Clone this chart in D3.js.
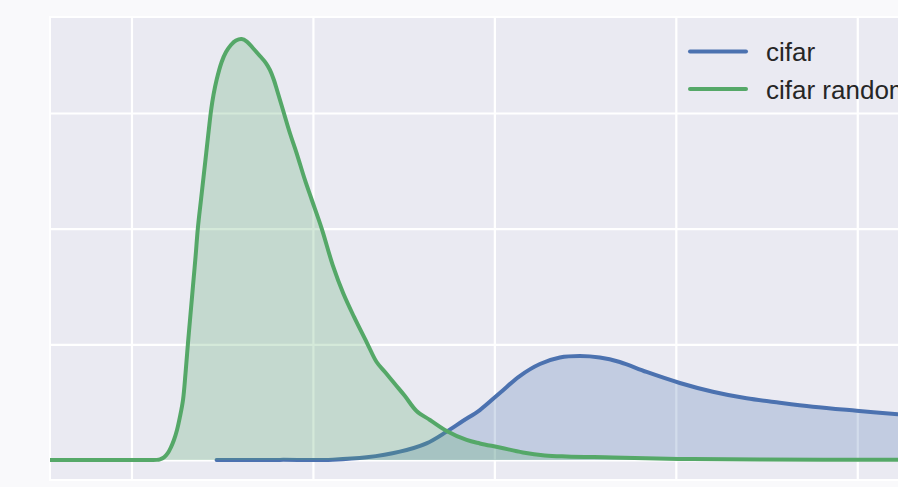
<!DOCTYPE html>
<html>
<head>
<meta charset="utf-8">
<script src="https://cdn.jsdelivr.net/npm/d3@7"></script>
<style>
  html, body { margin: 0; padding: 0; background: #f9f9fb; }
  svg { display: block; }
</style>
</head>
<body>
<svg id="chart" width="898" height="487"></svg>
<script>
// Kernel density estimates for the two datasets
const seriesNames = ["cifar", "cifar random"];
const seriesColors = ["#4c72b0", "#55a868"];

const cifarX = [0.469, 0.818, 1.110, 1.296, 1.479, 1.626, 1.737, 1.826, 1.920, 2.030, 2.140, 2.251, 2.361, 2.471, 2.581, 2.691, 2.839, 3.022, 3.204, 3.390, 3.573, 3.755, 3.996, 4.223, 4.500];
const cifarY = [0.000, 0.001, 0.003, 0.023, 0.072, 0.144, 0.245, 0.337, 0.432, 0.579, 0.726, 0.830, 0.886, 0.899, 0.886, 0.847, 0.761, 0.666, 0.590, 0.533, 0.495, 0.461, 0.426, 0.395, 0.363];

const randomX = [-0.449, 0.100, 0.140, 0.157, 0.179, 0.201, 0.218, 0.234, 0.251, 0.267, 0.284, 0.298, 0.311, 0.325, 0.339, 0.353, 0.366, 0.383, 0.412, 0.426, 0.439, 0.452, 0.469, 0.497, 0.521, 0.548, 0.576, 0.607, 0.636, 0.669, 0.708, 0.741, 0.763, 0.785, 0.802, 0.835, 0.873, 0.910, 0.956, 0.994, 1.048, 1.112, 1.167, 1.226, 1.299, 1.351, 1.402, 1.452, 1.507, 1.571, 1.645, 1.737, 1.847, 1.920, 2.030, 2.157, 2.278, 2.398, 2.653, 3.022, 3.463, 4.223, 4.500];
const randomY = [0.000, 0.000, 0.001, 0.006, 0.022, 0.061, 0.112, 0.173, 0.259, 0.372, 0.519, 0.752, 1.003, 1.254, 1.504, 1.755, 2.006, 2.248, 2.654, 2.853, 3.026, 3.156, 3.285, 3.441, 3.527, 3.588, 3.627, 3.640, 3.618, 3.562, 3.493, 3.432, 3.372, 3.285, 3.199, 3.026, 2.827, 2.654, 2.421, 2.248, 2.003, 1.671, 1.441, 1.239, 1.009, 0.847, 0.752, 0.657, 0.553, 0.424, 0.346, 0.251, 0.173, 0.143, 0.108, 0.065, 0.039, 0.030, 0.022, 0.009, 0.004, 0.002, 0.000];

const xTicks = [0, 1, 2, 3, 4];
const yTicks = [0, 1, 2, 3];

const svg = d3.select("#chart");
const plot = { left: 50, top: 17, right: 948, bottom: 480 };

const x = d3.scaleLinear().domain([-0.449, 4.5]).range([plot.left, plot.right]);
const y = d3.scaleLinear().domain([-0.173, 3.83]).range([plot.bottom, plot.top]);

// axes background with white frame
svg.append("rect")
  .attr("x", plot.left).attr("y", plot.top)
  .attr("width", plot.right - plot.left).attr("height", plot.bottom - plot.top)
  .attr("fill", "#eaeaf2")
  .attr("stroke", "#ffffff").attr("stroke-width", 2);

svg.append("clipPath").attr("id", "clip")
  .append("rect")
  .attr("x", plot.left).attr("y", plot.top)
  .attr("width", plot.right - plot.left).attr("height", plot.bottom - plot.top);

const g = svg.append("g").attr("clip-path", "url(#clip)");

// grid lines from axis generators
const xAxis = d3.axisBottom(x).tickValues(xTicks)
  .tickSize(-(plot.bottom - plot.top)).tickFormat("");
const yAxis = d3.axisLeft(y).tickValues(yTicks)
  .tickSize(-(plot.right - plot.left)).tickFormat("");

g.append("g").attr("transform", `translate(0,${plot.bottom})`).call(xAxis)
  .call(s => s.select(".domain").remove())
  .call(s => s.selectAll("line").attr("stroke", "#ffffff").attr("stroke-width", 2.2));
g.append("g").attr("transform", `translate(${plot.left},0)`).call(yAxis)
  .call(s => s.select(".domain").remove())
  .call(s => s.selectAll("line").attr("stroke", "#ffffff").attr("stroke-width", 2.2));

const series = [
  { xs: cifarX, ys: cifarY },
  { xs: randomX, ys: randomY }
];

const curve = d3.curveCatmullRom.alpha(0.5);
const line = d3.line().x(d => x(d[0])).y(d => y(d[1])).curve(curve);
const area = d3.area().x(d => x(d[0])).y0(y(0)).y1(d => y(d[1])).curve(curve);

series.forEach((s, i) => {
  const pts = s.xs.map((v, j) => [v, s.ys[j]]);
  g.append("path").datum(pts)
    .attr("d", line)
    .attr("fill", "none")
    .attr("stroke", seriesColors[i])
    .attr("stroke-width", 4)
    .attr("stroke-linecap", "round")
    .attr("stroke-linejoin", "round");
  g.append("path").datum(pts)
    .attr("d", area)
    .attr("fill", seriesColors[i])
    .attr("fill-opacity", 0.25);
});

// legend
const legend = svg.append("g").attr("transform", "translate(690,51.5)");
seriesNames.forEach((name, i) => {
  const row = legend.append("g").attr("transform", `translate(0,${i * 37.5})`);
  row.append("line")
    .attr("x1", 0).attr("x2", 56).attr("y1", 0).attr("y2", 0)
    .attr("stroke", seriesColors[i]).attr("stroke-width", 4)
    .attr("stroke-linecap", "round");
  row.append("text")
    .attr("x", 76).attr("y", 9.5)
    .attr("font-family", "Liberation Sans, Arial, sans-serif")
    .attr("font-size", 26)
    .attr("fill", "#262626")
    .text(name);
});
</script>
</body>
</html>
